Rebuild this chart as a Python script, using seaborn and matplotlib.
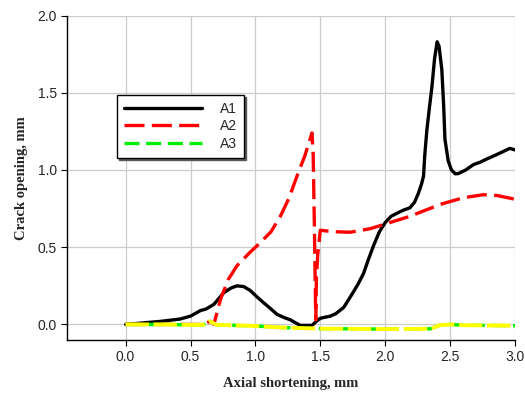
import matplotlib
matplotlib.use("Agg")
import matplotlib.pyplot as plt
import seaborn as sns
import pandas as pd

# A1 - black solid
a1_x = [0.0, 0.27, 0.42, 0.5, 0.577, 0.62, 0.68, 0.756, 0.81, 0.858, 0.91, 0.96, 1.01, 1.064, 1.12, 1.167,
        1.22, 1.269, 1.31, 1.346, 1.39, 1.436, 1.47, 1.5, 1.577, 1.62, 1.68, 1.74, 1.79, 1.833, 1.87, 1.91, 1.955,
        2.0, 2.045, 2.09, 2.14, 2.19, 2.225, 2.256, 2.28, 2.295, 2.305, 2.321, 2.34, 2.36, 2.38, 2.40, 2.415,
        2.436, 2.45, 2.46, 2.485, 2.51, 2.54, 2.564, 2.62, 2.68, 2.73, 2.78, 2.859, 2.91, 2.96, 3.0]
a1_y = [0.0, 0.02, 0.035, 0.054, 0.09, 0.1, 0.13, 0.205, 0.235, 0.25, 0.245, 0.22, 0.18, 0.14, 0.1, 0.065,
        0.045, 0.03, 0.01, -0.006, -0.006, -0.006, 0.02, 0.04, 0.054, 0.07, 0.11, 0.19, 0.26, 0.33, 0.42, 0.51, 0.6,
        0.66, 0.7, 0.72, 0.74, 0.755, 0.79, 0.85, 0.91, 0.96, 1.1, 1.26, 1.4, 1.54, 1.72, 1.83, 1.8,
        1.65, 1.42, 1.2, 1.06, 1.0, 0.975, 0.977, 1.0, 1.035, 1.05, 1.07, 1.1, 1.12, 1.14, 1.13]

# A2 - red dashed
a2_x = [0.0, 0.2, 0.4, 0.6, 0.65, 0.68, 0.73, 0.79, 0.858, 0.95, 1.038, 1.12, 1.192, 1.26, 1.32, 1.38, 1.436,
        1.445, 1.45, 1.455, 1.46, 1.465, 1.47, 1.48, 1.5, 1.55, 1.62, 1.73, 1.885, 2.0, 2.19, 2.423, 2.6, 2.756,
        2.86, 2.97, 3.0]
a2_y = [0.0, 0.0, 0.0, 0.0, 0.02, 0.0, 0.16, 0.29, 0.38, 0.46, 0.53, 0.6, 0.7, 0.82, 0.96, 1.09, 1.24,
        1.1, 0.85, 0.6, 0.3, 0.03, 0.3, 0.45, 0.61, 0.605, 0.6, 0.597, 0.62, 0.65, 0.70, 0.777, 0.82, 0.84,
        0.835, 0.816, 0.81]

# A3 - green dashed (yellow overlay along the same path)
a3_x = [0.0, 0.3, 0.5, 0.6, 0.64, 0.66, 0.7, 0.8, 1.0, 1.2, 1.5, 2.0, 2.35, 2.42, 2.5, 2.6, 3.0]
a3_y = [0.0, 0.0, -0.003, -0.002, 0.02, 0.015, -0.002, -0.005, -0.01, -0.02, -0.027, -0.03, -0.028,
        -0.005, 0.0, -0.005, -0.008]

x_ticks = [0.0, 0.5, 1.0, 1.5, 2.0, 2.5, 3.0]
y_ticks = [0.0, 0.5, 1.0, 1.5, 2.0]

sns.set_style("white")
plt.rcParams['font.family'] = ['Liberation Sans', 'DejaVu Sans']

fig = plt.figure(figsize=(5.25, 3.98), dpi=100)
ax = fig.add_axes([0.128, 0.146, 0.853, 0.815])

d1 = pd.DataFrame({'x': a1_x, 'y': a1_y})
d2 = pd.DataFrame({'x': a2_x, 'y': a2_y})
d3 = pd.DataFrame({'x': a3_x, 'y': a3_y})

sns.lineplot(data=d1, x='x', y='y', ax=ax, color='black', linewidth=2.4, sort=False,
             estimator=None, label='A1', zorder=3)
sns.lineplot(data=d2, x='x', y='y', ax=ax, color='#ff0000', linewidth=2.4, sort=False,
             estimator=None, label='A2', zorder=4)
ax.lines[-1].set_linestyle((0, (6, 2.2)))
sns.lineplot(data=d3, x='x', y='y', ax=ax, color='#00ee00', linewidth=2.4, sort=False,
             estimator=None, label='A3', zorder=5)
ax.lines[-1].set_linestyle((0, (4.5, 2)))
sns.lineplot(data=d3, x='x', y='y', ax=ax, color='#ffff00', linewidth=2.8, sort=False,
             estimator=None, zorder=6, legend=False)
ax.lines[-1].set_linestyle((0, (6, 1.2)))

ax.set_xlim(-0.45, 3.0)
ax.set_ylim(-0.1, 2.0)
ax.set_xticks(x_ticks)
ax.set_yticks(y_ticks)
ax.set_xticklabels([f'{v:.1f}' for v in x_ticks])
ax.set_yticklabels([f'{v:.1f}' for v in y_ticks])
ax.tick_params(axis='both', labelsize=10, direction='out', length=4, width=0.8, color='black',
               bottom=True, left=True)
ax.grid(True, color='#cccccc', linewidth=0.9)
ax.set_axisbelow(True)
for s in ['top', 'right']:
    ax.spines[s].set_visible(False)
for s in ['left', 'bottom']:
    ax.spines[s].set_color('black')
    ax.spines[s].set_linewidth(1.0)

ax.set_xlabel('Axial shortening, mm', family='Liberation Serif', fontweight='bold', fontsize=10.5, labelpad=9)
ax.set_ylabel('Crack opening, mm', family='Liberation Serif', fontweight='bold', fontsize=10.5, labelpad=7)

leg = ax.legend(loc='upper left', bbox_to_anchor=(0.112, 0.756), borderaxespad=0, fontsize=10,
                handlelength=5.6, handletextpad=1.3, labelspacing=0.25, borderpad=0.5,
                fancybox=False, shadow={'color': '0.35', 'alpha': 1.0, 'ox': 1.5, 'oy': -1.5},
                framealpha=1, edgecolor='black')
leg.get_frame().set_linewidth(1.0)

fig.savefig('out.png', dpi=100)
